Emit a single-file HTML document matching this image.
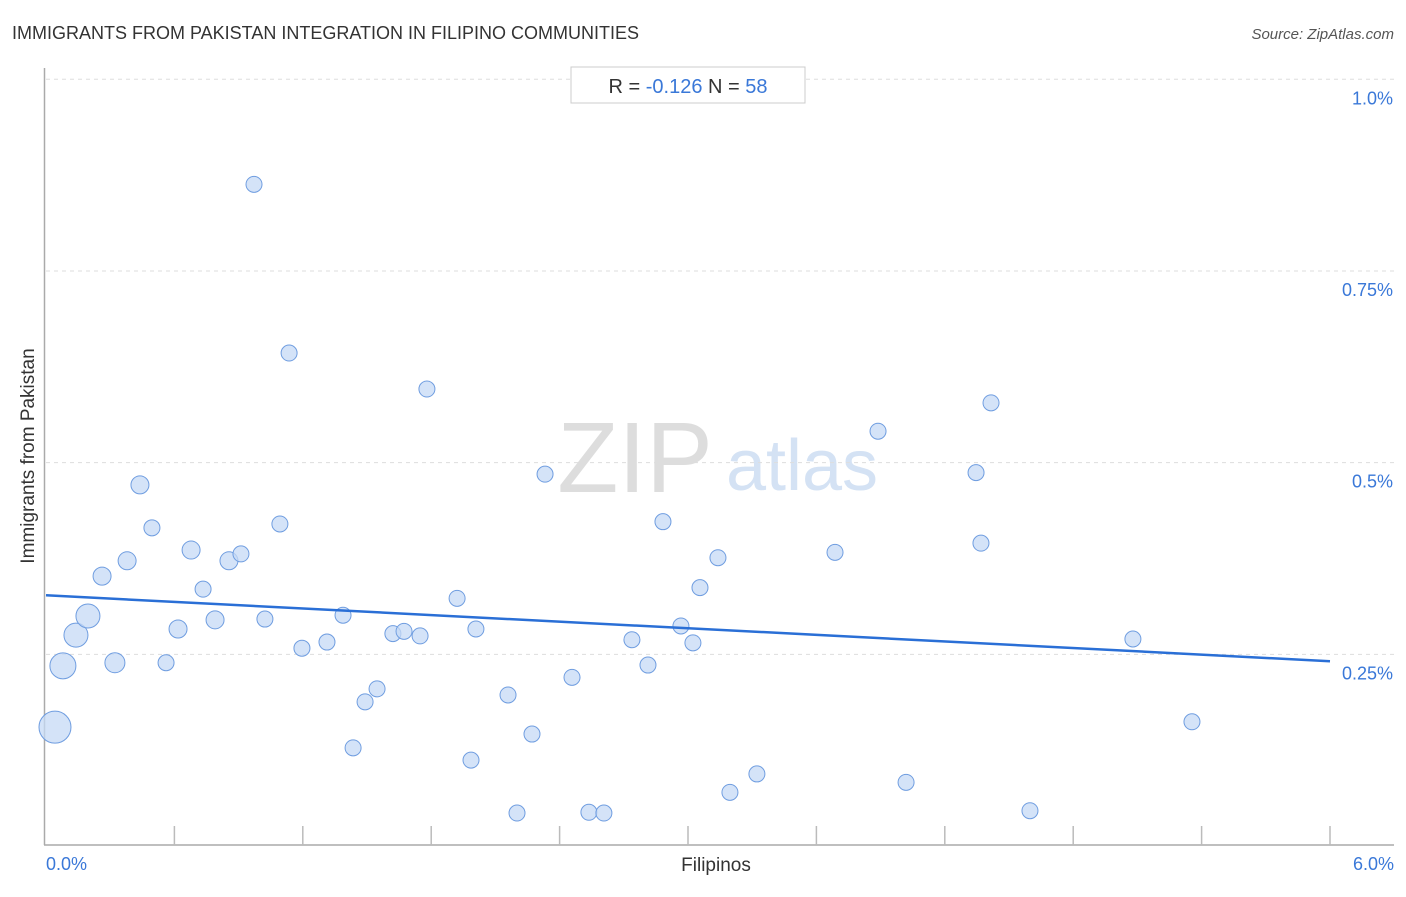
<!DOCTYPE html>
<html><head><meta charset="utf-8"><style>
body{margin:0;background:#fff;font-family:"Liberation Sans",sans-serif;}
svg text{font-family:"Liberation Sans",sans-serif;}
</style></head><body>
<svg id="chart" width="1406" height="892" xmlns="http://www.w3.org/2000/svg">
<text x="12" y="39" font-size="18" fill="#333">IMMIGRANTS FROM PAKISTAN INTEGRATION IN FILIPINO COMMUNITIES</text>
<text x="1394" y="39" font-size="15" fill="#555" font-style="italic" text-anchor="end">Source: ZipAtlas.com</text>
<text x="635" y="492" font-size="100" fill="#ddd" font-family="Liberation Serif" text-anchor="middle">ZIP</text>
<text x="802" y="490" font-size="72" fill="#d4e2f4" text-anchor="middle">atlas</text>
<g id="grid"></g>
<g id="axes"></g>
<g id="pts"></g>
<g id="trend"></g>
<rect x="571" y="67" width="234" height="36" fill="#fff" stroke="#ccc"/>
<text x="688" y="93" font-size="20" text-anchor="middle"><tspan fill="#333">R = </tspan><tspan fill="#3a78d8">-0.126</tspan><tspan fill="#333">    N = </tspan><tspan fill="#3a78d8">58</tspan></text>
<text x="716" y="871" font-size="19" fill="#333" text-anchor="middle">Filipinos</text>
<text x="34" y="456" font-size="19" fill="#333" text-anchor="middle" transform="rotate(-90 34 456)">Immigrants from Pakistan</text>
</svg>
<script>
const xVals=[0.042,0.079,0.140,0.196,0.262,0.322,0.379,0.439,0.495,0.561,0.617,0.678,0.734,0.790,0.855,0.911,0.972,1.023,1.093,1.136,1.196,1.313,1.388,1.435,1.491,1.547,1.621,1.673,1.748,1.780,1.921,1.986,2.009,2.159,2.201,2.271,2.332,2.458,2.537,2.607,2.738,2.813,2.883,2.967,3.023,3.056,3.140,3.196,3.322,3.687,3.888,4.019,4.346,4.369,4.416,4.598,5.079,5.355];
const yVals=[0.155,0.235,0.275,0.300,0.352,0.239,0.372,0.471,0.415,0.239,0.283,0.386,0.335,0.295,0.372,0.381,0.863,0.296,0.420,0.643,0.258,0.266,0.301,0.128,0.188,0.205,0.277,0.280,0.274,0.596,0.323,0.112,0.283,0.197,0.043,0.146,0.485,0.220,0.044,0.043,0.269,0.236,0.423,0.287,0.265,0.337,0.376,0.070,0.094,0.383,0.541,0.083,0.487,0.395,0.578,0.046,0.270,0.162];
const popSizes=[16,13,12,12,9,10,9,9,8,8,9,9,8,9,9,8,8,8,8,8,8,8,8,8,8,8,8,8,8,8,8,8,8,8,8,8,8,8,8,8,8,8,8,8,8,8,8,8,8,8,8,8,8,8,8,8,8,8];
const yTicks=[0.25,0.5,0.75,1.0];
const yTickLabels=["0.25%","0.5%","0.75%","1.0%"];
const xTickLabels=["0.0%","6.0%"];
const trendEnds=[0.327,0.241];
const NS="http://www.w3.org/2000/svg";
const X=v=>46+v/6*1284, Y=v=>846-v*766.7;
function mk(t,a,p){const e=document.createElementNS(NS,t);for(const k in a)e.setAttribute(k,a[k]);document.getElementById(p).appendChild(e);return e;}
yTicks.forEach((t,i)=>{
 const l=mk('line',{x1:46,x2:1394,y1:Y(t),y2:Y(t),stroke:'#ddd','stroke-dasharray':'4,4'},'grid');
 
 
 const tx=mk('text',{x:1393,y:Y(t)+25,'font-size':18,fill:'#3a78d8','text-anchor':'end'},'grid');
 tx.textContent=yTickLabels[i];
 
 
});
let a=mk('line',{x1:44.5,x2:44.5,y1:68,y2:845,stroke:'#aaa','stroke-width':1.5},'axes');


a=mk('line',{x1:44,x2:1394,y1:845,y2:845,stroke:'#aaa','stroke-width':1.5},'axes');


for(let i=1;i<=10;i++){
 const t=mk('line',{x1:X(i*0.6),x2:X(i*0.6),y1:826,y2:845,stroke:'#bbb','stroke-width':1.5},'axes');
 
 
}
[[0,'start',46],[6,'end',1394]].forEach((d,i)=>{
 const t=mk('text',{x:d[2],y:870,'font-size':18,fill:'#3a78d8','text-anchor':d[1]},'axes');
 t.textContent=xTickLabels[i];
 
 
});
xVals.forEach((v,i)=>{
 const c=mk('circle',{cx:X(v),cy:Y(yVals[i]),r:popSizes[i],fill:'#c6daf5','fill-opacity':0.75,stroke:'#6f9de0','stroke-width':1},'pts');
 
 
});
const tl=mk('line',{x1:X(0),y1:Y(trendEnds[0]),x2:X(6),y2:Y(trendEnds[1]),stroke:'#2a6fd6','stroke-width':2.5},'trend');


</script>
</body></html>
